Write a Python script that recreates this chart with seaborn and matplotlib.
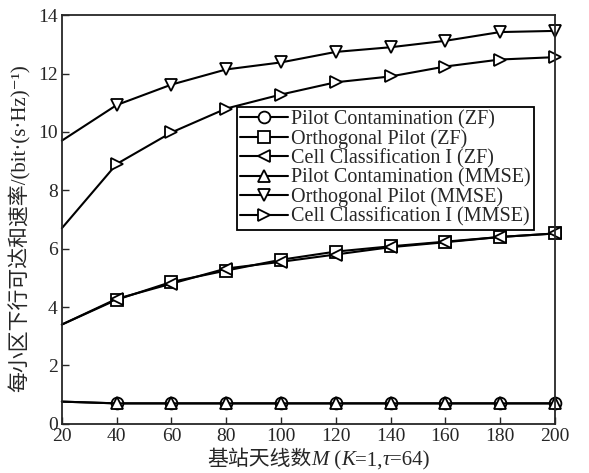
import numpy as np
import pandas as pd
import seaborn as sns
import matplotlib
matplotlib.use("Agg")
import matplotlib.pyplot as plt
from matplotlib.transforms import IdentityTransform

sns.set_style("ticks")
plt.rcParams['font.family'] = ['Liberation Serif', 'Noto Sans CJK SC', 'DejaVu Serif']

# Number of base-station antennas
antennas = [20, 40, 60, 80, 100, 120, 140, 160, 180, 200]

# Downlink sum rate per cell, bit/(s·Hz)
pilot_contam_zf = [0.76, 0.70, 0.70, 0.70, 0.70, 0.70, 0.70, 0.70, 0.70, 0.70]
orthogonal_zf = [3.40, 4.25, 4.86, 5.25, 5.62, 5.90, 6.08, 6.24, 6.40, 6.52]
cell_class_zf = [3.40, 4.28, 4.80, 5.32, 5.55, 5.80, 6.05, 6.22, 6.40, 6.52]
pilot_contam_mmse = [0.76, 0.70, 0.70, 0.70, 0.70, 0.70, 0.70, 0.70, 0.70, 0.70]
orthogonal_mmse = [9.70, 10.92, 11.62, 12.14, 12.38, 12.74, 12.90, 13.12, 13.42, 13.46]
cell_class_mmse = [6.70, 8.90, 9.98, 10.80, 11.28, 11.70, 11.90, 12.24, 12.48, 12.56]

series_names = [
    "Pilot Contamination (ZF)",
    "Orthogonal Pilot (ZF)",
    "Cell Classification I (ZF)",
    "Pilot Contamination (MMSE)",
    "Orthogonal Pilot (MMSE)",
    "Cell Classification I (MMSE)",
]
series_values = [pilot_contam_zf, orthogonal_zf, cell_class_zf,
                 pilot_contam_mmse, orthogonal_mmse, cell_class_mmse]
series_markers = ["o", "s", "<", "^", "v", ">"]

fig = plt.figure(figsize=(5.89, 4.73), dpi=100)
ax = fig.add_axes([0.105, 0.104, 0.837, 0.864])

for name, vals, mk in zip(series_names, series_values, series_markers):
    df = pd.DataFrame({"M": antennas, "rate": vals})
    sns.lineplot(data=df, x="M", y="rate", ax=ax, color="black", lw=1.5,
                 marker=mk, markersize=8.5, markerfacecolor="white",
                 markeredgecolor="black", markeredgewidth=1.3,
                 markevery=slice(1, None), clip_on=False, label=name)

ax.set_xlim(20, 200)
ax.set_ylim(0, 14)
ax.set_xticks(range(20, 201, 20))
ax.set_yticks(range(0, 15, 2))
ax.tick_params(direction="in", length=5, width=1, labelsize=14, pad=3)
for sp in ax.spines.values():
    sp.set_linewidth(1.3)
    sp.set_visible(True)

ax.set_xlabel("")
ax.set_ylabel("每小区下行可达和速率/(bit·(s·Hz)⁻¹)", fontsize=15)
ax.yaxis.set_label_coords(-0.064, 0.48)

leg = ax.legend(loc="upper left", bbox_to_anchor=(0.355, 0.775), fontsize=14.5,
                frameon=True, fancybox=False, edgecolor="black", framealpha=1,
                handlelength=2.4, handletextpad=0.15, borderpad=0.15,
                labelspacing=0.0, borderaxespad=0)
leg.get_frame().set_linewidth(1.3)

# x-axis label assembled from upright and italic pieces, centred under the axes
pieces = [("基站天线数", "normal"), ("M", "italic"), (" (", "normal"),
          ("K", "italic"), ("=1,", "normal"), ("τ", "italic"), ("=64)", "normal")]
renderer = fig.canvas.get_renderer()
base_y = 0.016 * fig.bbox.height
texts, x = [], 0.0
for s, st in pieces:
    t = fig.text(x, base_y, s, fontsize=15, style=st, ha="left", va="baseline",
                 transform=IdentityTransform())
    w = t.get_window_extent(renderer).width
    texts.append((t, x))
    x += w
ax_bb = ax.get_window_extent(renderer)
start = (ax_bb.x0 + ax_bb.x1) / 2 - x / 2 + 10
for t, off in texts:
    t.set_x(start + off)

fig.savefig("out.png", dpi=100)
